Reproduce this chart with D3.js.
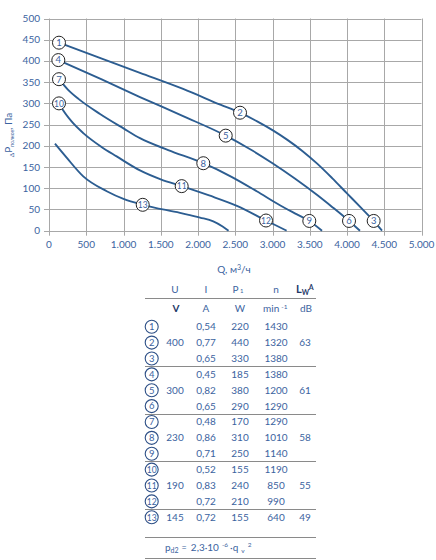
<!DOCTYPE html>
<html><head><meta charset="utf-8">
<script src="https://cdn.jsdelivr.net/npm/d3@7"></script>
<style>
body{margin:0;background:#fff;}
svg text{font-family:Lato,"Open Sans",sans-serif;}
</style></head>
<body><svg id="c" width="436" height="560"></svg>
<script>
// ---------- data ----------
const qTicks = [0,500,1000,1500,2000,2500,3000,3500,4000,4500,5000];
const pTicks = [0,50,100,150,200,250,300,350,400,450,500];
// curve points [Q, P]
const curveA = [[134,443],[700,406],[1221,372],[1800,334],[2300,297],[2564,278],[2800,257],[3000,237],[3200,214],[3400,188],[3600,158],[3800,124],[4000,88],[4200,52],[4358,23],[4470,0]];
const curveB = [[125,402],[700,357],[1221,315],[1800,270],[2372,224],[2700,192],[3000,159],[3300,123],[3600,84],[3800,56],[4027,23],[4174,0]];
const curveC = [[134,357],[250,333],[400,310],[685,275],[1000,241],[1221,218],[1600,190],[2071,159],[2450,127],[2788,93],[3100,60],[3300,41],[3494,23],[3665,0]];
const curveD = [[134,300],[170,289],[300,258],[460,230],[700,198],[908,175],[1221,142],[1500,121],[1781,105],[2150,83],[2530,58],[2913,24],[3190,0]];
const curveE = [[80,205],[237,172],[460,128],[775,93],[1000,75],[1258,61],[1758,42],[2027,31],[2205,22],[2330,10],[2410,0]];
const curves = [curveA,curveB,curveC,curveD,curveE];
// circled labels on the chart
const labelIds = [1,2,3,4,5,6,7,8,9,10,11,12,13];
const labelQ = [134,2564,4358,125,2372,4027,134,2071,3494,134,1781,2913,1258];
const labelP = [443,278,23,402,224,23,357,159,23,300,105,24,61];
// table
const voltage = [400,300,230,190,145];
const groups = [[1,2,3],[4,5,6],[7,8,9],[10,11,12],[13]];
const current = [0.54,0.77,0.65,0.45,0.82,0.65,0.48,0.86,0.71,0.52,0.83,0.72,0.72];
const power = [220,440,330,185,380,290,170,310,250,155,240,210,155];
const speed = [1430,1320,1380,1380,1200,1290,1290,1010,1140,1190,850,990,640];
const noise = [63,61,58,55,49];

// ---------- chart ----------
const svg = d3.select("#c");
const txt = "#3b63a0", lineC = "#2c5d91", grid = "#a8a8a8";
const x = d3.scaleLinear().domain([0,5000]).range([49,421.5]);
const y = d3.scaleLinear().domain([0,500]).range([230.7,18.5]);
const loc = d3.formatLocale({decimal:",",thousands:".",grouping:[3],currency:["",""]});
const fmtQ = loc.format(",");
const fmtI = loc.format(".2f");

const g = svg.append("g");
g.selectAll("line.v").data(qTicks).join("line")
  .attr("x1",d=>Math.round(x(d))+0.5).attr("x2",d=>Math.round(x(d))+0.5)
  .attr("y1",y(500)).attr("y2",y(0)+5).attr("stroke",grid).attr("stroke-width",1);
g.selectAll("line.h").data(pTicks).join("line")
  .attr("y1",d=>Math.round(y(d))+0.5).attr("y2",d=>Math.round(y(d))+0.5)
  .attr("x1",x(0)-5).attr("x2",x(5000)).attr("stroke",grid).attr("stroke-width",1);

g.selectAll("text.xt").data(qTicks).join("text")
  .attr("x",d=>x(d)).attr("y",247.5).attr("text-anchor","middle")
  .attr("font-size",10).attr("fill",txt).text(d=>fmtQ(d));
g.selectAll("text.yt").data(pTicks).join("text")
  .attr("x",40).attr("y",d=>y(d)+3.5).attr("text-anchor","end")
  .attr("font-size",10).attr("fill",txt).text(d=>d);

const line = d3.line().x(d=>x(d[0])).y(d=>y(d[1])).curve(d3.curveMonotoneX);
g.selectAll("path.c").data(curves).join("path")
  .attr("d",line).attr("fill","none").attr("stroke",lineC).attr("stroke-width",1.9);

const lab = g.selectAll("g.lab").data(labelIds).join("g")
  .attr("transform",(d,i)=>`translate(${x(labelQ[i])},${y(labelP[i])})`);
lab.append("circle").attr("r",6.5).attr("fill","#fff").attr("stroke","#222").attr("stroke-width",1);
lab.append("text").attr("text-anchor","middle").attr("y",3.3)
  .attr("font-size",d=>d>9?8.5:9.5).attr("fill",txt).text(d=>d);

// axis titles
const xt = svg.append("text").attr("x",234).attr("y",273).attr("text-anchor","middle")
  .attr("font-size",10).attr("fill",txt);
xt.append("tspan").text("Q, м");
xt.append("tspan").attr("font-size",7).attr("dy",-3).text("3");
xt.append("tspan").attr("dy",3).text("/ч");

const yt = svg.append("text").attr("transform","translate(12,135) rotate(-90)")
  .attr("text-anchor","middle").attr("font-size",10).attr("fill",txt);
yt.append("tspan").attr("font-size",6.5).attr("dy",2).text("Δ");
yt.append("tspan").attr("dy",-2).text("P");
yt.append("tspan").attr("font-size",5).attr("dy",2).text("полное");
yt.append("tspan").attr("dy",-2).text(", Па");

// ---------- table ----------
const T = svg.append("g");
const colCirc = 151.7, colU = 175, colI = 206, colP = 240, colN = 276, colDb = 305;
const rowY = i => 326.7 + i*15.88;
const tl = "#8a8a8a";
const hl = (yy)=>T.append("line").attr("x1",145).attr("x2",316).attr("y1",yy).attr("y2",yy).attr("stroke",tl).attr("stroke-width",1);
hl(298.5); hl(366.5); hl(414.5); hl(461.5); hl(509.5); hl(537.5); hl(558.5);

const ht = (xx,yy,s,opt={})=>T.append("text").attr("x",xx).attr("y",yy).attr("text-anchor","middle")
  .attr("font-size",opt.fs||10).attr("fill",opt.fill||txt).attr("font-weight",opt.fw||"normal").text(s);
ht(colU,292.5,"U"); ht(colI,292.5,"I");
const p1 = ht(colP-2,292.5,"P"); p1.append("tspan").attr("font-size",6).attr("dx",1.5).attr("dy",0.5).text("1");
ht(colN,292.5,"n");
const lw = T.append("text").attr("x",296).attr("y",292.5).attr("fill","#1f3a68").attr("font-size",11).attr("font-weight","bold");
lw.append("tspan").text("L");
lw.append("tspan").attr("font-size",7).attr("dy",2).text("W");
lw.append("tspan").attr("font-size",7).attr("dy",-4.5).text("A");
ht(colU+1,312,"V",{fw:"bold",fill:"#1f3a68"}); ht(colI,312,"A"); ht(colP,312,"W");
const mn = T.append("text").attr("x",263).attr("y",312).attr("font-size",10).attr("fill",txt);
mn.append("tspan").text("min");
mn.append("tspan").attr("font-size",6.5).attr("dx",2).attr("dy",-3.5).text("-1");
ht(colDb+1,312,"dB");

labelIds.forEach((id,i)=>{
  const yy = rowY(i);
  T.append("circle").attr("cx",colCirc).attr("cy",yy).attr("r",6.5).attr("fill","#fff").attr("stroke","#2d4f86").attr("stroke-width",1.1);
  T.append("text").attr("x",colCirc).attr("y",yy+3.3).attr("text-anchor","middle").attr("font-size",id>9?8.5:9.5).attr("fill",txt).text(id);
  ht(colI,yy+3.5,fmtI(current[i]),{fs:10});
  ht(colP,yy+3.5,power[i],{fs:10});
  ht(colN,yy+3.5,speed[i],{fs:10});
});
groups.forEach((grp,k)=>{
  const mid = grp[Math.floor(grp.length/2)]-1;
  ht(colU,rowY(mid)+3.5,voltage[k],{fs:10});
  ht(colDb,rowY(mid)+3.5,noise[k],{fs:10});
});

// formula
const f = T.append("text").attr("x",165).attr("y",551).attr("font-size",10).attr("fill",txt);
f.append("tspan").text("p");
f.append("tspan").attr("font-size",7).attr("dy",1.5).text("d2");
f.append("tspan").attr("font-size",9).attr("dy",-1.5).attr("dx",3).text("=");
f.append("tspan").attr("dx",4).text("2,3·10");
f.append("tspan").attr("font-size",6.5).attr("dx",3).attr("dy",-4).text("-6");
f.append("tspan").attr("dx",2).attr("dy",4).text("·q");
f.append("tspan").attr("font-size",6.5).attr("dx",3).attr("dy",2).text("v");
f.append("tspan").attr("font-size",6.5).attr("dx",3).attr("dy",-6).text("2");
</script></body></html>
